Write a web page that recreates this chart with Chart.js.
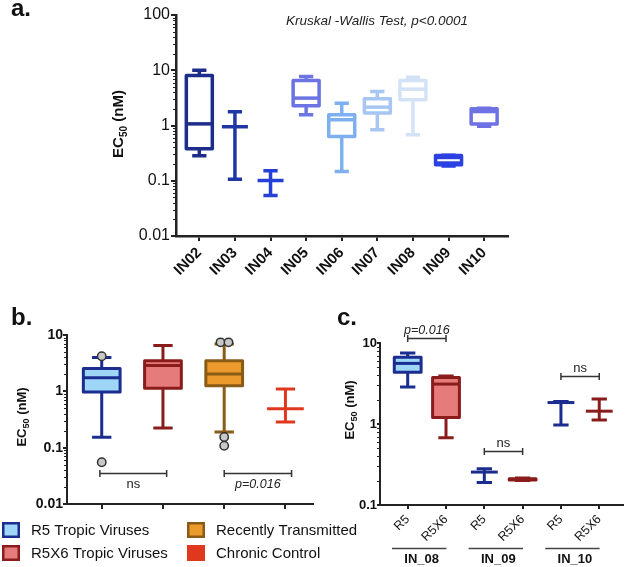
<!DOCTYPE html>
<html><head><meta charset="utf-8">
<script src="https://cdn.jsdelivr.net/npm/chart.js@4.4.0/dist/chart.umd.min.js"></script>
<style>
html,body{margin:0;padding:0;background:#fff;}
#wrap{position:relative;width:625px;height:567px;overflow:hidden;}
#wrap canvas{position:absolute;left:0;top:0;}
</style></head><body>
<div id="wrap">
<canvas id="ca" width="625" height="567"></canvas>
<canvas id="cb" width="625" height="567"></canvas>
<canvas id="cc" width="625" height="567"></canvas>
</div>
<script>
// ---------------- Panel a data ----------------
const catsA = ['IN02','IN03','IN04','IN05','IN06','IN07','IN08','IN09','IN10'];
const minA  = [0.283, 0.107, 0.054, 1.56, 0.147, 0.84, 0.68, 0.185, 0.97];
const q1A   = [0.38,  0.95,  0.101, 2.27, 0.63,  1.68, 2.92, 0.195, 1.07];
const medA  = [1.07,  0.95,  0.101, 3.13, 1.27,  2.15, 4.55, 0.235, 1.79];
const q3A   = [8.0,   0.95,  0.101, 6.5,  1.56,  3.04, 6.5,  0.285, 2.0];
const maxA  = [10.0,  1.77,  0.152, 7.7,  2.54,  4.12, 7.5,  0.29,  2.05];
const yTicksA = [0.01, 0.1, 1, 10, 100];
const statTextA = 'Kruskal -Wallis Test, p<0.0001';

// ---------------- Panel b data ----------------
const catsB = ['R5 Tropic Viruses','R5X6 Tropic Viruses','Recently Transmitted','Chronic Control'];
const minB  = [0.153, 0.224, 0.19, 0.286];
const q1B   = [0.97,  1.13,  1.26, 0.49];
const medB  = [1.75,  2.86,  2.03, 0.49];
const q3B   = [2.53,  3.5,   3.5,  0.49];
const maxB  = [4.0,   6.5,   6.9,  1.1];
const outlierCatB = [0, 0, 1.94, 2.07, 2, 2];
const outlierValB = [4.2, 0.055, 7.4, 7.4, 0.155, 0.108];
const yTicksB = [0.01, 0.1, 1, 10];
const bracketFromB = [-0.03, 2];
const bracketToB   = [1.06, 3.1];
const bracketAtB   = [0.0357, 0.0357];
const bracketTextB = ['ns', 'p=0.016'];

// ---------------- Panel c data ----------------
const catsC   = ['R5','R5X6','R5','R5X6','R5','R5X6'];
const groupsC = ['IN_08','IN_09','IN_10'];
const minC  = [2.86, 0.676, 0.189, 0.200, 0.97, 1.12];
const q1C   = [4.34, 1.2,   0.255, 0.203, 1.84, 1.44];
const medC  = [5.6,  3.11,  0.255, 0.207, 1.84, 1.44];
const q3C   = [6.66, 3.76,  0.255, 0.211, 1.84, 1.44];
const maxC  = [7.55, 3.9,   0.28,  0.215, 1.9,  2.04];
const yTicksC = [0.1, 1, 10];
const bracketFromC = [0, 2, 4];
const bracketToC   = [1, 3, 5];
const bracketAtC   = [11.6, 0.466, 3.87];
const bracketTextC = ['p=0.016', 'ns', 'ns'];

// ---------------- Styles ----------------
const FONT = '"Liberation Sans", Arial, Helvetica, sans-serif';
const AX = '#222';
const strokeA = ['#1d2d8a','#1f37a5','#2440d6','#6c74e3','#7eb0ef','#a7c6f2','#d4e2f8','#2b41e2','#6e72e3'];
const fillA   = [null,null,null,null,null,null,null,'#2b41e2',null];
const medColA = [null,null,null,null,null,null,null,'#ffffff',null];
const strokeB = ['#1b2d8f','#8a1c1c','#8a5b16','#e0381f'];
const fillB   = ['#9fd5f7','#e67b7b','#eb9a2b','#e0381f'];
const strokeC = ['#1b2d8f','#8a1c1c','#1b2d8f','#8a1c1c','#1b2d8f','#8a1c1c'];
const fillC   = ['#9fd5f7','#e67b7b','#1b2d8f','#8a1c1c','#9fd5f7','#e67b7b'];

function drawBoxes(chart, d, st) {
  const ctx = chart.ctx, xs = chart.scales.x, ys = chart.scales.y;
  ctx.save();
  for (let i = 0; i < d.min.length; i++) {
    const cx = xs.getPixelForValue(i);
    const hw = xs.getPixelForValue(i + st.boxHalf) - cx;
    const cw = xs.getPixelForValue(i + st.capHalf) - cx;
    const py = v => ys.getPixelForValue(v);
    const yMin = py(d.min[i]), yQ1 = py(d.q1[i]), yMed = py(d.med[i]), yQ3 = py(d.q3[i]), yMax = py(d.max[i]);
    const col = st.stroke[i];
    const hasBox = (yQ1 - yQ3) > 0.5;
    ctx.lineWidth = st.lw; ctx.strokeStyle = col; ctx.lineCap = 'butt'; ctx.lineJoin = 'round';
    if (hasBox && st.fill && st.fill[i]) { ctx.fillStyle = st.fill[i]; ctx.fillRect(cx - hw, yQ3, 2 * hw, yQ1 - yQ3); }
    ctx.beginPath();
    ctx.moveTo(cx, yMax); ctx.lineTo(cx, yQ3);
    ctx.moveTo(cx, yQ1); ctx.lineTo(cx, yMin);
    ctx.moveTo(cx - cw, yMax); ctx.lineTo(cx + cw, yMax);
    ctx.moveTo(cx - cw, yMin); ctx.lineTo(cx + cw, yMin);
    ctx.stroke();
    if (hasBox) ctx.strokeRect(cx - hw, yQ3, 2 * hw, yQ1 - yQ3);
    const special = st.med && st.med[i];
    ctx.strokeStyle = special || col;
    if (special) ctx.lineWidth = st.lw * 0.6;
    ctx.beginPath();
    ctx.moveTo(cx - hw + (special ? st.lw / 2 : 0), yMed);
    ctx.lineTo(cx + hw - (special ? st.lw / 2 : 0), yMed);
    ctx.stroke();
  }
  ctx.restore();
}

function minorTicks(chart, len) {
  const ctx = chart.ctx, ys = chart.scales.y, left = chart.chartArea.left;
  const lo = Math.floor(Math.log10(ys.min)), hi = Math.ceil(Math.log10(ys.max));
  ctx.save(); ctx.strokeStyle = AX; ctx.lineWidth = 1;
  ctx.beginPath();
  for (let e = lo; e < hi; e++) for (let k = 2; k <= 9; k++) {
    const v = k * Math.pow(10, e);
    if (v <= ys.min || v >= ys.max) continue;
    const y = Math.round(ys.getPixelForValue(v)) + 0.5;
    ctx.moveTo(left - len, y); ctx.lineTo(left, y);
  }
  ctx.stroke(); ctx.restore();
}

function yTitle(ctx, cx, cy, size) {
  ctx.save(); ctx.translate(cx, cy); ctx.rotate(-Math.PI / 2);
  const f1 = `bold ${size}px ${FONT}`, f2 = `bold ${Math.round(size * 0.68)}px ${FONT}`;
  ctx.font = f1; const wE = ctx.measureText('EC').width, wR = ctx.measureText(' (nM)').width;
  ctx.font = f2; const wS = ctx.measureText('50').width;
  let x = -(wE + wS + wR) / 2; const base = size * 0.36;
  ctx.fillStyle = '#111'; ctx.textAlign = 'left'; ctx.textBaseline = 'alphabetic';
  ctx.font = f1; ctx.fillText('EC', x, base); x += wE;
  ctx.font = f2; ctx.fillText('50', x, base + size * 0.27); x += wS;
  ctx.font = f1; ctx.fillText(' (nM)', x, base);
  ctx.restore();
}

function panelLabel(ctx, t, x, y) {
  ctx.save(); ctx.font = `bold 24px ${FONT}`; ctx.fillStyle = '#111';
  ctx.textAlign = 'left'; ctx.textBaseline = 'alphabetic'; ctx.fillText(t, x, y); ctx.restore();
}

function drawBrackets(chart, from, to, at, texts, below, size) {
  const ctx = chart.ctx, xs = chart.scales.x, ys = chart.scales.y;
  ctx.save(); ctx.strokeStyle = '#333'; ctx.lineWidth = 1.5; ctx.fillStyle = '#222';
  for (let i = 0; i < from.length; i++) {
    const x1 = xs.getPixelForValue(from[i]), x2 = xs.getPixelForValue(to[i]);
    const y = Math.round(ys.getPixelForValue(at[i])) + 0.5;
    ctx.beginPath();
    ctx.moveTo(x1, y); ctx.lineTo(x2, y);
    ctx.moveTo(x1, y - 3.5); ctx.lineTo(x1, y + 3.5);
    ctx.moveTo(x2, y - 3.5); ctx.lineTo(x2, y + 3.5);
    ctx.stroke();
    const it = texts[i].startsWith('p');
    ctx.font = `${it ? 'italic ' : ''}${it ? size - 0.5 : size}px ${FONT}`;
    ctx.textAlign = 'center'; ctx.textBaseline = 'alphabetic';
    ctx.fillText(texts[i], (x1 + x2) / 2, below ? y + 14 : y - 5);
  }
  ctx.restore();
}

function xCat(labels, min, max, h, font, rot, tickLen, bw) {
  return {
    type: 'linear', min, max,
    afterBuildTicks: ax => { ax.ticks = labels.map((_, i) => ({ value: i })); },
    afterFit: ax => { ax.height = h; },
    ticks: { autoSkip: false, minRotation: rot, maxRotation: rot, color: '#111',
      font: Object.assign({ family: FONT }, font), padding: 3,
      callback: v => (font ? (labels[v] !== undefined ? labels[v] : '') : '') },
    grid: { drawOnChartArea: false, drawTicks: true, tickLength: tickLen, color: AX, lineWidth: 2 },
    border: { display: true, color: AX, width: bw }
  };
}
function yLog(min, max, ticks, w, font, tickLen, pad, bw) {
  return {
    type: 'logarithmic', min, max,
    afterBuildTicks: ax => { ax.ticks = ticks.map(v => ({ value: v, major: true })); },
    afterFit: ax => { ax.width = w; },
    ticks: { autoSkip: false, color: '#111', font: Object.assign({ family: FONT }, font), padding: pad, callback: v => String(v) },
    grid: { drawOnChartArea: false, drawTicks: true, tickLength: tickLen, color: AX, lineWidth: 2 },
    border: { display: true, color: AX, width: bw }
  };
}
const common = { responsive: false, animation: false, devicePixelRatio: 1, events: [],
  plugins: { legend: { display: false }, tooltip: { enabled: false } } };

// ---------------- Chart a ----------------
new Chart(document.getElementById('ca'), {
  type: 'scatter',
  data: { datasets: [] },
  options: Object.assign({}, common, {
    layout: { padding: { left: 0, top: 15, right: 117, bottom: 281 } },
    scales: {
      x: xCat(catsA, -0.655, 8.67, 50, { size: 15, weight: 'bold' }, 45, 5, 2.5),
      y: yLog(0.01, 100, yTicksA, 176, { size: 16 }, 5, 1, 2.5)
    }
  }),
  plugins: [{
    id: 'panelA',
    beforeDatasetsDraw(chart) {
      drawBoxes(chart, { min: minA, q1: q1A, med: medA, q3: q3A, max: maxA },
        { stroke: strokeA, fill: fillA, med: medColA, lw: 3.5, boxHalf: 0.365, capHalf: 0.2 });
    },
    afterDraw(chart) {
      const ctx = chart.ctx;
      minorTicks(chart, 3);
      panelLabel(ctx, 'a.', 11, 16);
      ctx.save(); ctx.font = `italic 13.5px ${FONT}`; ctx.fillStyle = '#222'; ctx.textAlign = 'center';
      ctx.fillText(statTextA, 377, 25); ctx.restore();
      yTitle(ctx, 118, 124, 15);
    }
  }]
});

// ---------------- Chart b ----------------
new Chart(document.getElementById('cb'), {
  type: 'scatter',
  data: { datasets: [{
    data: outlierCatB.map((c, i) => ({ x: c, y: outlierValB[i] })),
    pointRadius: 4.2, backgroundColor: '#c8c8c8', borderColor: '#333', borderWidth: 1.5
  }] },
  options: Object.assign({}, common, {
    layout: { padding: { left: 0, top: 335, right: 312, bottom: 43 } },
    scales: {
      x: xCat(catsB, -0.567, 3.45, 20, null, 0, 5, 2),
      y: yLog(0.01, 10, yTicksB, 67, { size: 14, weight: 'bold' }, 4, 0, 2)
    }
  }),
  plugins: [{
    id: 'panelB',
    beforeDatasetsDraw(chart) {
      drawBoxes(chart, { min: minB, q1: q1B, med: medB, q3: q3B, max: maxB },
        { stroke: strokeB, fill: fillB, lw: 3, boxHalf: 0.3, capHalf: 0.158 });
      drawBrackets(chart, bracketFromB, bracketToB, bracketAtB, bracketTextB, true, 13);
    },
    afterDraw(chart) {
      const ctx = chart.ctx;
      minorTicks(chart, 3);
      panelLabel(ctx, 'b.', 11, 325);
      yTitle(ctx, 21, 417, 13);
      const colX = [2, 187], rowY = [522, 545];
      ctx.save();
      catsB.forEach((name, i) => {
        const x = colX[Math.floor(i / 2)], y = rowY[i % 2];
        ctx.fillStyle = fillB[i]; ctx.fillRect(x, y, 18, 16);
        ctx.strokeStyle = strokeB[i]; ctx.lineWidth = 2.5; ctx.strokeRect(x + 1.25, y + 1.25, 15.5, 13.5);
        ctx.fillStyle = '#111'; ctx.font = `15px ${FONT}`; ctx.textAlign = 'left'; ctx.textBaseline = 'middle';
        ctx.fillText(name, x + 29, y + 9);
      });
      ctx.restore();
    }
  }]
});

// ---------------- Chart c ----------------
new Chart(document.getElementById('cc'), {
  type: 'scatter',
  data: { datasets: [] },
  options: Object.assign({}, common, {
    layout: { padding: { left: 0, top: 343, right: 2, bottom: 22 } },
    scales: {
      x: xCat(catsC, -0.723, 5.62, 40, { size: 12.5 }, 45, 4, 2),
      y: yLog(0.1, 10, yTicksC, 380, { size: 13, weight: 'bold' }, 3, 0, 2)
    }
  }),
  plugins: [{
    id: 'panelC',
    beforeDatasetsDraw(chart) {
      drawBoxes(chart, { min: minC, q1: q1C, med: medC, q3: q3C, max: maxC },
        { stroke: strokeC, fill: fillC, lw: 3, boxHalf: 0.35, capHalf: 0.2 });
      drawBrackets(chart, bracketFromC, bracketToC, bracketAtC, bracketTextC, false, 13);
    },
    afterDraw(chart) {
      const ctx = chart.ctx, xs = chart.scales.x, b = chart.chartArea.bottom;
      minorTicks(chart, 3);
      panelLabel(ctx, 'c.', 337, 325);
      yTitle(ctx, 349, 410, 13);
      ctx.save();
      groupsC.forEach((g, k) => {
        const mid = 2 * k + 0.5;
        const x1 = xs.getPixelForValue(mid - 0.2 - 0.71), x2 = xs.getPixelForValue(mid - 0.2 + 0.71);
        ctx.strokeStyle = '#444'; ctx.lineWidth = 1.5;
        ctx.beginPath(); ctx.moveTo(x1, b + 43.5); ctx.lineTo(x2, b + 43.5); ctx.stroke();
        ctx.fillStyle = '#111'; ctx.font = `bold 13px ${FONT}`; ctx.textAlign = 'center'; ctx.textBaseline = 'middle';
        ctx.fillText(g, xs.getPixelForValue(mid - 0.135), b + 54);
      });
      ctx.restore();
    }
  }]
});
</script>
</body></html>
